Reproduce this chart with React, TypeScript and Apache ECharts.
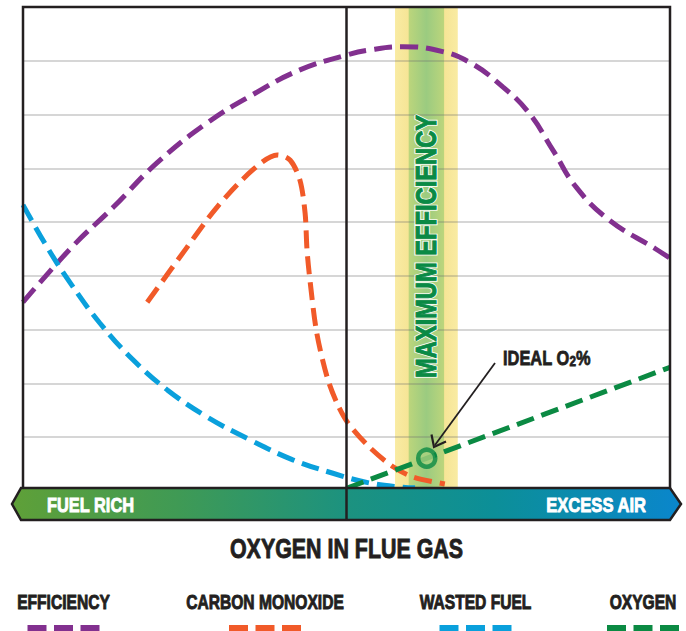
import React, { useEffect, useRef } from 'react';
import * as echarts from 'echarts';

// ---- data (x: 0..100 oxygen scale, y: 0..9 relative level) ----
const efficiencyData: number[][] = [
  [0, 3.51], [7.6, 4.54], [13.9, 5.27], [20.7, 6.1], [28.4, 6.84], [35.5, 7.37],
  [42.8, 7.83], [50.1, 8.11], [53.5, 8.2], [58.7, 8.26], [63.8, 8.2], [68.9, 7.98],
  [74.2, 7.51], [78.2, 7.03], [81.9, 6.34], [85.5, 5.65], [90.6, 5.04], [97.8, 4.5], [100, 4.33],
];
const carbonMonoxideData: number[][] = [
  [19.2, 3.51], [25.4, 4.54], [30.0, 5.28], [35.5, 5.97], [39.3, 6.25], [41.3, 6.15],
  [42.8, 5.78], [43.6, 5.17], [43.9, 4.48], [44.4, 3.87], [45.4, 2.94], [47.0, 2.12],
  [48.5, 1.64], [50.2, 1.27], [53.5, 0.82], [57.2, 0.45], [60.3, 0.26], [65.2, 0.13],
];
const wastedFuelData: number[][] = [
  [0, 5.32], [3.7, 4.54], [7.3, 3.87], [11.9, 3.12], [17.0, 2.44], [22.3, 1.88],
  [28.4, 1.38], [35.1, 0.95], [41.7, 0.58], [47.9, 0.33], [53.5, 0.15], [58.7, 0.07], [60.6, 0.06],
];
const oxygenData: number[][] = [[50, 0.05], [100, 2.3]];
const idealPoint: number[][] = [[62.4, 0.61]];
const maxEfficiencyBand: number[] = [57.5, 67.2];
const yTicks: number[] = [0, 1, 2, 3, 4, 5, 6, 7, 8, 9];
const seriesNames: string[] = ['EFFICIENCY', 'CARBON MONOXIDE', 'WASTED FUEL', 'OXYGEN'];
const seriesColors: string[] = ['#82308F', '#F15A29', '#0AA0DC', '#0B8A43'];

const FONT = '"Liberation Sans", Arial, sans-serif';
const DARK = '#231F20';
const legendCenters = [63.5, 265, 475.5, 643];

function dashed(color: string) {
  return { color, width: 5, type: [18, 8] as any, cap: 'butt' as any };
}

export default function App() {
  const ref = useRef<HTMLDivElement>(null);
  useEffect(() => {
    if (!ref.current) return;
    const chart = echarts.init(ref.current, undefined, { renderer: 'svg' });

    const graphics: any[] = [];
    // frame
    graphics.push({
      type: 'rect', z: 100, silent: true,
      shape: { x: 23, y: 7, width: 647, height: 484 },
      style: { fill: 'none', stroke: DARK, lineWidth: 2.5 },
    });
    // bottom arrow bar
    graphics.push({
      type: 'polygon', z: 101, silent: true,
      shape: { points: [[21, 488], [670, 488], [681, 504], [670, 520], [21, 520], [12, 504]] },
      style: {
        fill: new echarts.graphic.LinearGradient(0, 0, 1, 0, [
          { offset: 0, color: '#5FA038' },
          { offset: 0.25, color: '#3F9A55' },
          { offset: 0.5, color: '#1C927F' },
          { offset: 0.72, color: '#0C8F98' },
          { offset: 1, color: '#0A86CC' },
        ]),
        stroke: DARK, lineWidth: 2.5,
      },
    });
    // vertical divider
    graphics.push({
      type: 'line', z: 102, silent: true,
      shape: { x1: 346.5, y1: 7, x2: 346.5, y2: 520 },
      style: { stroke: DARK, lineWidth: 2.5 },
    });
    const txt = (text: string, x: number, y: number, size: number, fill: string, align: string, sx: number) => ({
      type: 'text', z: 110, silent: true, x, y, scaleX: sx,
      style: {
        text, font: `bold ${size}px ${FONT}`, fill, stroke: fill, lineWidth: 0.9,
        align, textAlign: align, verticalAlign: 'middle', textVerticalAlign: 'middle',
      },
    });
    graphics.push(txt('FUEL RICH', 47, 505, 21, '#FFFFFF', 'left', 0.78));
    graphics.push(txt('EXCESS AIR', 646, 505, 21, '#FFFFFF', 'right', 0.79));
    graphics.push(txt('OXYGEN IN FLUE GAS', 346.5, 547.5, 28, DARK, 'center', 0.765));
    // rotated band label (white halo, then green)
    ['halo', 'main'].forEach((layer) => {
      graphics.push({
        type: 'text', z: layer === 'halo' ? 90 : 91, silent: true, x: 426.5, y: 246.5, rotation: Math.PI / 2, scaleX: 0.79,
        style: {
          text: 'MAXIMUM EFFICIENCY', font: `bold 30px ${FONT}`,
          fill: layer === 'halo' ? '#FFFFFF' : '#0A8A45',
          stroke: layer === 'halo' ? 'rgba(255,255,255,0.9)' : '#0A8A45',
          lineWidth: layer === 'halo' ? 3.2 : 1,
          align: 'center', textAlign: 'center', verticalAlign: 'middle', textVerticalAlign: 'middle',
        },
      });
    });
    // ideal O2 label
    graphics.push({
      type: 'text', z: 110, silent: true, x: 503, y: 357.5, scaleX: 0.78,
      style: {
        text: '{a|IDEAL O}{s|2}{a|%}',
        fill: DARK, stroke: DARK, lineWidth: 0.8,
        align: 'left', textAlign: 'left', verticalAlign: 'middle', textVerticalAlign: 'middle',
        rich: {
          a: { fontSize: 21, fontWeight: 'bold', fontFamily: FONT, fill: DARK },
          s: { fontSize: 15, fontWeight: 'bold', fontFamily: FONT, fill: DARK, verticalAlign: 'bottom' },
        },
      },
    });
    // arrow
    graphics.push({
      type: 'line', z: 110, silent: true,
      shape: { x1: 495, y1: 363, x2: 435, y2: 445 },
      style: { stroke: DARK, lineWidth: 1.8 },
    });
    graphics.push({
      type: 'polyline', z: 110, silent: true,
      shape: { points: [[431.5, 434.5], [434, 447], [446, 441.5]] },
      style: { stroke: DARK, lineWidth: 2.2, fill: 'none' },
    });
    // legend
    seriesNames.forEach((name, i) => {
      const c = legendCenters[i];
      graphics.push(txt(name, c, 602.5, 19.5, DARK, 'center', 0.8));
      [-36, -9.5, 17].forEach((dx) => {
        graphics.push({
          type: 'rect', z: 110, silent: true,
          shape: { x: c + dx, y: 625, width: 19, height: 8 },
          style: { fill: seriesColors[i] },
        });
      });
    });

    const option: any = {
      animation: false,
      grid: { left: 23, right: 16, top: 7, bottom: 140, containLabel: false },
      xAxis: { type: 'value', min: 0, max: 100, show: false, splitLine: { show: false } },
      yAxis: {
        type: 'value', min: yTicks[0], max: yTicks[yTicks.length - 1], interval: 1, z: 2,
        axisLine: { show: false }, axisTick: { show: false }, axisLabel: { show: false },
        splitLine: { show: true, lineStyle: { color: 'rgba(110,110,110,0.38)', width: 1.6 } },
      },
      series: [
        {
          name: 'band', type: 'line', data: [], z: 0, silent: true,
          markArea: {
            silent: true, z: 0,
            itemStyle: {
              color: new echarts.graphic.LinearGradient(0, 0, 1, 0, [
                { offset: 0, color: '#F9EBA3' },
                { offset: 0.21, color: '#F6E596' },
                { offset: 0.225, color: '#BBD57C' },
                { offset: 0.5, color: '#9BCB80' },
                { offset: 0.775, color: '#BBD57C' },
                { offset: 0.79, color: '#F6E596' },
                { offset: 1, color: '#F9EBA3' },
              ]),
            },
            data: [[{ xAxis: maxEfficiencyBand[0], yAxis: 0 }, { xAxis: maxEfficiencyBand[1], yAxis: 9 }]],
          },
        },
        { name: seriesNames[0], type: 'line', z: 3, data: efficiencyData, smooth: 0.45, showSymbol: false, silent: true, lineStyle: dashed(seriesColors[0]) },
        { name: seriesNames[1], type: 'line', z: 3, data: carbonMonoxideData, smooth: 0.3, showSymbol: false, silent: true, lineStyle: dashed(seriesColors[1]) },
        { name: seriesNames[2], type: 'line', z: 3, data: wastedFuelData, smooth: 0.4, showSymbol: false, silent: true, lineStyle: dashed(seriesColors[2]) },
        { name: seriesNames[3], type: 'line', z: 3, data: oxygenData, showSymbol: false, silent: true, lineStyle: dashed(seriesColors[3]) },
        {
          name: 'ideal', type: 'scatter', z: 4, data: idealPoint, symbol: 'circle', symbolSize: 17, silent: true,
          itemStyle: { color: '#A9D17F', borderColor: seriesColors[3], borderWidth: 4.5 },
        },
      ],
      graphic: { elements: graphics },
    };
    chart.setOption(option);
    return () => chart.dispose();
  }, []);
  return (
    <div
      ref={ref}
      style={{ position: 'fixed', left: 0, top: 0, width: 686, height: 631, background: '#FFFFFF' }}
    />
  );
}
